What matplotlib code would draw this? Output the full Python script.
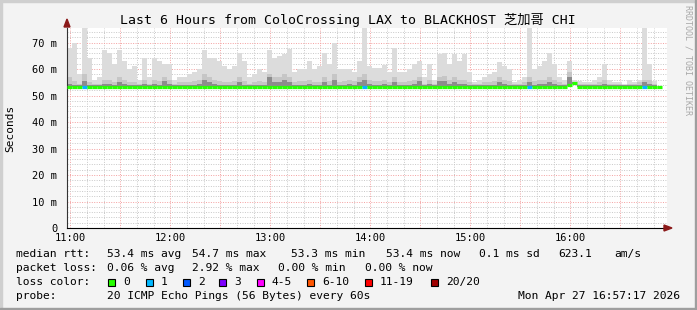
import numpy as np
import matplotlib.pyplot as plt
from matplotlib.patches import Rectangle, Polygon

W, H = 697, 310
MONO = ['DejaVu Sans Mono', 'Noto Sans CJK SC']

# ---- data (3 minute columns starting 10:58) ----
step_min = 3
hour_labels = ['11:00', '12:00', '13:00', '14:00', '15:00', '16:00']
hour_pos = [2, 62, 122, 182, 242, 302]

smoke_max = [68, 70, 58, 76, 64, 56, 57, 67, 66, 62,
             67, 63, 60, 61, 56, 64, 57, 64, 63, 62,
             62, 56, 57, 57, 58, 59, 60, 67, 64, 64,
             63, 61, 60, 61, 66, 63, 57, 58, 60, 59,
             67, 64, 65, 65.5, 67.5, 59, 60, 60, 63, 60,
             61, 66, 62, 70, 60, 60, 60, 59, 63, 76,
             61, 60.5, 60.5, 61.5, 59, 68, 59, 59, 60, 62,
             63, 57, 62, 56, 65.6, 66, 62, 65.6, 63, 65.6,
             59, 55, 56, 57, 58, 59, 62.5, 61, 60, 55,
             56, 57, 76, 60, 61, 63, 66, 62, 57, 56,
             63, 56, 55.5, 55, 55, 56, 57, 62, 56, 55,
             55, 54.5, 56, 55, 56, 76, 62, 55.5, 54, np.nan]

smoke_mid = [57, 55.5, 54.5, 58, 55, 54.5, 54.5, 56, 56, 55,
             57, 56, 55, 55, 54.5, 56, 54.5, 56, 55.5, 57,
             56, 54.5, 55, 55, 55, 55.5, 56, 58, 57, 56,
             55.5, 55, 55, 55.5, 57, 55.5, 54.5, 55, 55.5, 55,
             58, 57, 57, 58, 57, 55, 55.5, 55.5, 56, 55,
             55, 57, 55.5, 58, 55, 55.5, 56, 55.5, 57, 58,
             56, 55.5, 55.5, 56, 55, 57, 55, 55, 55.5, 56,
             57, 54.5, 56, 54.5, 57, 57.5, 56, 57, 56, 56,
             55, 54.5, 54.5, 55, 55, 55.5, 57, 56, 55.5, 54.5,
             54.5, 55, 57, 55.5, 56, 56, 57, 56, 55, 54.5,
             59, 55, 54.5, 54.5, 54.5, 54.5, 55, 56, 54.5, 54.5,
             54.5, 54, 54.5, 54.5, 55, 56, 56, 54.5, 54, np.nan]

smoke_dark = [54.5, 54, 54, 55.5, 54, 54, 54, 54.5, 54.5, 54,
              55, 54.5, 54, 54, 54, 54.5, 54, 54.5, 54, 55.5,
              54.5, 54, 54, 54, 54, 54, 54.5, 56, 55, 54.5,
              54, 54, 54, 54, 55, 54, 54, 54, 54, 54,
              57, 55, 55, 56, 55, 54, 54, 54, 54.5, 54,
              54, 55, 54, 56, 54, 54, 54.5, 54, 55, 56,
              54.5, 54, 54, 54.5, 54, 55, 54, 54, 54, 54.5,
              55.5, 54, 54.5, 54, 55.5, 55.5, 54.5, 55, 54.5, 54.5,
              54, 54, 54, 54, 54, 54, 55, 54.5, 54, 54,
              54, 54, 55, 54, 54.5, 54.5, 55, 54.5, 54, 54,
              57, 55, 54, 54, 54, 54, 54, 54.5, 54, 54,
              54, 54, 54, 54, 54, 55, 54.5, 54, 54, np.nan]

median = [53.4] * 100 + [53.8, 54.7] + [53.4] * 17 + [np.nan]
loss = [0] * 120
for i in (3, 59, 92, 115):
    loss[i] = 1

loss_colors = {0: '#26ff00', 1: '#00b8ff', 2: '#0059ff', 3: '#7e00ff',
               5: '#ff00ff', 10: '#ff5500', 19: '#ff0000', 20: '#a00000'}
legend_items = [('0', '#26ff00'), ('1', '#00b8ff'), ('2', '#0059ff'), ('3', '#7e00ff'),
                ('4-5', '#ff00ff'), ('6-10', '#ff5500'), ('11-19', '#ff0000'), ('20/20', '#a00000')]

fig = plt.figure(figsize=(W / 100, H / 100), dpi=100)
fig.patch.set_facecolor('#f3f3f3')

def px(x, y):
    return x / W, 1 - y / H

# shaded frame
fig.patches.append(Rectangle((0, 1 - 2 / H), 1, 2 / H, transform=fig.transFigure, color='#cfcfcf', zorder=0))
fig.patches.append(Rectangle((0, 0), 2 / W, 1, transform=fig.transFigure, color='#cfcfcf', zorder=0))
fig.patches.append(Rectangle((0, 0), 1, 2 / H, transform=fig.transFigure, color='#9e9e9e', zorder=0))
fig.patches.append(Rectangle((1 - 2 / W, 0), 2 / W, 1, transform=fig.transFigure, color='#9e9e9e', zorder=0))

x0, x1, ytop, ybot = 67, 667, 27.7, 228
ax = fig.add_axes([x0 / W, 1 - ybot / H, (x1 - x0) / W, (ybot - ytop) / H])
ax.set_facecolor('white')
ax.set_xlim(0, 360)
ax.set_ylim(0, 75.6)

# grid
ax.set_xticks(np.arange(2, 360, 30))
ax.set_xticklabels([hour_labels[hour_pos.index(p)] if p in hour_pos else '' for p in range(2, 360, 30)])
ax.set_xticks(np.arange(2, 360, 10), minor=True)
ax.set_yticks(np.arange(0, 71, 10))
ax.set_yticklabels(['0'] + ['%d m' % v for v in range(10, 71, 10)])
ax.set_yticks(np.arange(0, 76, 2), minor=True)
ax.grid(which='minor', color='#c8c8c8', linestyle=(0, (1, 1.5)), linewidth=0.7)
ax.grid(which='major', color='#f4a0a0', linestyle=(0, (1, 1.5)), linewidth=0.7)
ax.set_axisbelow(True)
ax.tick_params(which='both', length=0)
ax.tick_params(axis='y', pad=7)
ax.tick_params(axis='x', pad=3.5)
for lab in ax.get_xticklabels() + ax.get_yticklabels():
    lab.set_family(MONO)
    lab.set_fontsize(7.5)

for s in ('top', 'right'):
    ax.spines[s].set_visible(False)
ax.spines['left'].set_color('#333333')
ax.spines['bottom'].set_color('black')
ax.spines['left'].set_linewidth(0.8)
ax.spines['bottom'].set_linewidth(0.8)

# smoke
t = np.arange(121) * step_min
base = np.array(median) - 0.3
def band(top, color):
    top = np.append(top, top[-1])
    b = np.append(base, base[-1])
    ax.fill_between(t, b, top, step='post', color=color, linewidth=0, zorder=2)
band(np.array(smoke_max), '#dcdcdc')
band(np.array(smoke_mid), '#c6c6c6')
band(np.array(smoke_dark), '#8c8c8c')

# median line coloured by loss
tc = t[:-1]
cols = [loss_colors[l] for l in loss]
ax.hlines(median, tc, tc + step_min, colors=cols, linewidth=2.3, zorder=3)

# arrows
fig.patches.append(Polygon([px(64, 27), px(70, 27), px(67, 19)], closed=True,
                           transform=fig.transFigure, color='#8b1a1a', zorder=5))
fig.patches.append(Polygon([px(664, 225), px(664, 231), px(672, 228)], closed=True,
                           transform=fig.transFigure, color='#8b1a1a', zorder=5))

# texts
fig.text(*px(348, 20), 'Last 6 Hours from ColoCrossing LAX to BLACKHOST 芝加哥 CHI',
         ha='center', va='center', family=MONO, fontsize=9.5)
fig.text(*px(10, 128), 'Seconds', rotation=90, ha='center', va='center', family=MONO, fontsize=8)
fig.text(*px(688, 5), 'RRDTOOL / TOBI OETIKER', rotation=270, ha='center', va='top',
         family=MONO, fontsize=6, color='#a8a8a8')

fs = 8.1
def txt(x, y, s, **kw):
    fig.text(*px(x, y), s, va='center', family=MONO, fontsize=fs, **kw)

txt(16, 254, 'median rtt:')
for x, s in [(107, '53.4 ms avg'), (192, '54.7 ms max'), (291, '53.3 ms min'),
             (386, '53.4 ms now'), (479, '0.1 ms sd'), (558, '623.1'), (614, 'am/s')]:
    txt(x, 254, s)
txt(16, 268, 'packet loss:')
for x, s in [(107, '0.06 % avg'), (192, '2.92 % max'), (278, '0.00 % min'), (365, '0.00 % now')]:
    txt(x, 268, s)
txt(16, 282, 'loss color:')
box_x = [108, 146, 183, 219, 257, 307, 365, 431]
for bx, (lab, c) in zip(box_x, legend_items):
    fig.patches.append(Rectangle(px(bx, 285.5), 7 / W, 7 / H, transform=fig.transFigure,
                                 facecolor=c, edgecolor='black', linewidth=0.8))
    txt(bx + 15, 282, lab)
txt(16, 296, 'probe:')
txt(107, 296, '20 ICMP Echo Pings (56 Bytes) every 60s')
txt(680, 296, 'Mon Apr 27 16:57:17 2026', ha='right')

fig.savefig('out.png', dpi=100, facecolor=fig.get_facecolor())
